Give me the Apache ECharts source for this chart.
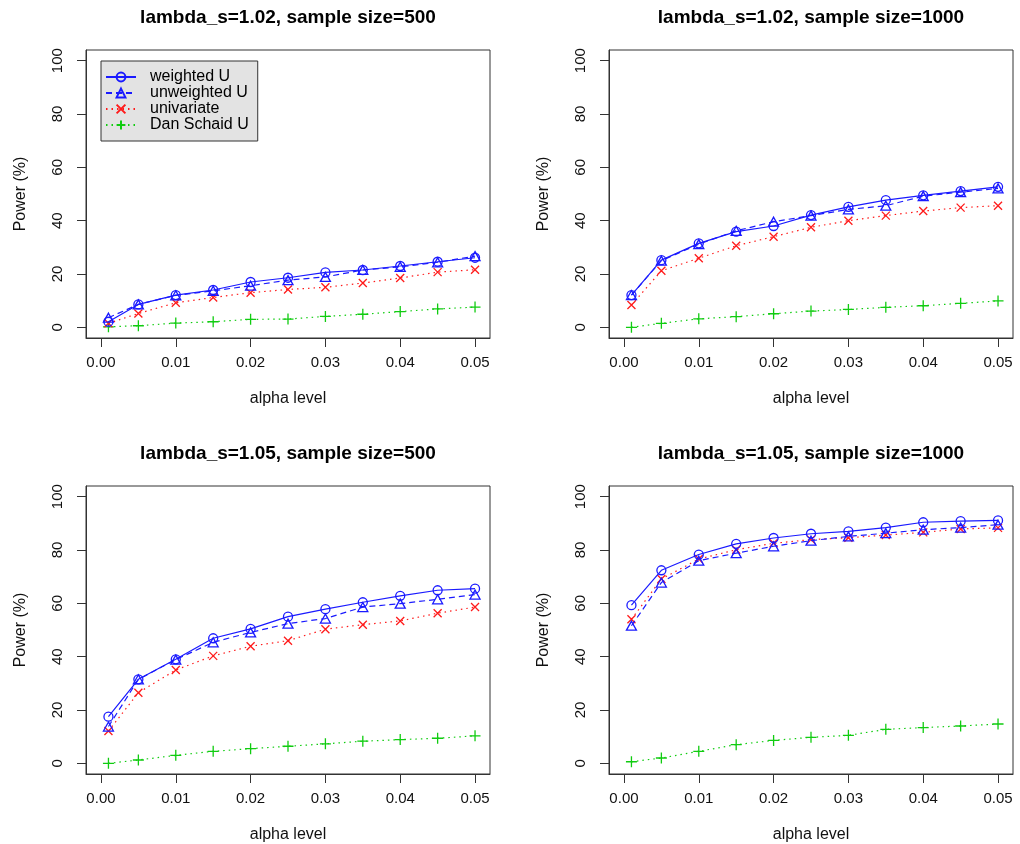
<!DOCTYPE html>
<html>
<head>
<meta charset="utf-8">
<script src="https://cdn.jsdelivr.net/npm/echarts@6/dist/echarts.min.js"></script>
<style>
  html, body { margin: 0; padding: 0; background: #fff; }
  #main { width: 1020px; height: 844px; }
</style>
</head>
<body>
<div id="main"></div>
<script>
// alpha levels on the x axis
var alpha = [0.001, 0.005, 0.01, 0.015, 0.02, 0.025, 0.03, 0.035, 0.04, 0.045, 0.05];
var xTicks = [0, 0.01, 0.02, 0.03, 0.04, 0.05];
var yTicks = [0, 20, 40, 60, 80, 100];

var titles = [
    'lambda_s=1.02, sample size=500',
    'lambda_s=1.02, sample size=1000',
    'lambda_s=1.05, sample size=500',
    'lambda_s=1.05, sample size=1000'
];
var methods = ['weighted U', 'unweighted U', 'univariate', 'Dan Schaid U'];

// power (%) per panel
var weighted_102_500   = [2.1, 8.6, 12.1, 14.0, 17.0, 18.6, 20.6, 21.5, 23.0, 24.6, 26.1];
var unweighted_102_500 = [3.6, 8.6, 12.0, 13.7, 15.6, 17.7, 18.9, 21.5, 22.7, 24.4, 26.7];
var univariate_102_500 = [1.5, 5.2, 9.2, 11.2, 13.0, 14.2, 15.0, 16.6, 18.5, 20.7, 21.6];
var schaid_102_500     = [0.2, 0.6, 1.6, 2.1, 3.0, 3.1, 4.1, 4.9, 5.9, 6.9, 7.6];

var weighted_102_1000   = [12.1, 25.2, 31.5, 35.9, 38.0, 42.1, 45.2, 47.7, 49.5, 51.1, 52.7];
var unweighted_102_1000 = [12.1, 25.0, 31.2, 36.2, 39.6, 41.9, 44.2, 45.6, 49.2, 50.7, 52.1];
var univariate_102_1000 = [8.4, 21.2, 25.9, 30.6, 34.0, 37.5, 40.0, 41.9, 43.6, 44.9, 45.6];
var schaid_102_1000     = [0.0, 1.5, 3.2, 4.0, 5.1, 6.1, 6.7, 7.5, 8.1, 9.0, 9.9];

var weighted_105_500   = [17.5, 31.5, 39.0, 46.9, 50.4, 55.0, 57.8, 60.4, 62.8, 64.9, 65.5];
var unweighted_105_500 = [13.8, 31.5, 38.9, 45.4, 49.1, 52.4, 54.3, 58.6, 59.9, 61.5, 63.3];
var univariate_105_500 = [12.1, 26.5, 35.0, 40.3, 43.9, 46.0, 50.3, 52.0, 53.4, 56.3, 58.6];
var schaid_105_500     = [0.0, 1.25, 3.0, 4.5, 5.5, 6.4, 7.3, 8.3, 8.9, 9.4, 10.3];

var weighted_105_1000   = [59.3, 72.4, 78.3, 82.3, 84.5, 86.1, 87.0, 88.4, 90.4, 90.8, 91.1];
var unweighted_105_1000 = [51.6, 67.8, 76.0, 78.8, 81.4, 83.5, 85.1, 86.3, 87.6, 88.4, 89.5];
var univariate_105_1000 = [54.0, 69.1, 76.6, 80.1, 82.5, 83.9, 84.6, 85.6, 86.6, 87.9, 88.3];
var schaid_105_1000     = [0.6, 2.0, 4.5, 7.0, 8.6, 9.75, 10.5, 12.75, 13.4, 14.0, 14.75];

var panels = [
    [weighted_102_500, unweighted_102_500, univariate_102_500, schaid_102_500],
    [weighted_102_1000, unweighted_102_1000, univariate_102_1000, schaid_102_1000],
    [weighted_105_500, unweighted_105_500, univariate_105_500, schaid_105_500],
    [weighted_105_1000, unweighted_105_1000, univariate_105_1000, schaid_105_1000]
];

var BLUE = '#1a1aff', RED = '#ff1a1a', GREEN = '#10cc10';
var FONT = '"Liberation Sans", Arial, Helvetica, sans-serif';

// look of each method: marker + line type
var styles = [
    {symbol: 'circle', size: 9, color: BLUE, type: 'solid'},
    {symbol: 'triangle', size: [10, 9], color: BLUE, type: [6, 4]},
    {symbol: 'path://M0,0L10,10M10,0L0,10', size: 8, color: RED, type: [1.5, 4]},
    {symbol: 'path://M5,0L5,10M0,5L10,5', size: 11, color: GREEN, type: [1.5, 4]}
];

// plot boxes
var boxes = [
    {left: 86, top: 50, width: 404, height: 288},
    {left: 609, top: 50, width: 404, height: 288},
    {left: 86, top: 486, width: 404, height: 289},
    {left: 609, top: 486, width: 404, height: 289}
];

var myChart = echarts.init(document.getElementById('main'));

var grids = [], xAxes = [], yAxes = [], series = [], titleOpts = [];

boxes.forEach(function (b, i) {
    grids.push({
        left: b.left, top: b.top, width: b.width, height: b.height,
        show: true, borderColor: '#333', borderWidth: 1, backgroundColor: '#fff'
    });

    titleOpts.push({
        text: titles[i],
        left: b.left + b.width / 2,
        top: b.top - 42,
        textAlign: 'center',
        padding: 0,
        textStyle: {fontFamily: FONT, fontSize: 19, fontWeight: 'bold', color: '#000'}
    });

    xAxes.push({
        type: 'value',
        gridIndex: i,
        min: -0.002,
        max: 0.052,
        name: 'alpha level',
        nameLocation: 'middle',
        nameGap: 53,
        nameTextStyle: {fontFamily: FONT, fontSize: 16, color: '#111'},
        axisLine: {show: true, onZero: false, lineStyle: {color: '#333', width: 1}},
        axisTick: {show: true, length: 9, customValues: xTicks, lineStyle: {color: '#333'}},
        axisLabel: {
            customValues: xTicks, margin: 17, fontFamily: FONT, fontSize: 15, color: '#111',
            formatter: function (v) { return v.toFixed(2); }
        },
        splitLine: {show: false}
    });

    yAxes.push({
        type: 'value',
        gridIndex: i,
        min: -4,
        max: 104,
        name: 'Power (%)',
        nameLocation: 'middle',
        nameGap: 57,
        nameRotate: 90,
        nameTextStyle: {fontFamily: FONT, fontSize: 16, color: '#111'},
        axisLine: {show: true, onZero: false, lineStyle: {color: '#333', width: 1}},
        axisTick: {show: true, length: 9, customValues: yTicks, lineStyle: {color: '#333'}},
        axisLabel: {
            customValues: yTicks, rotate: 90, margin: 21,
            align: 'center', verticalAlign: 'bottom',
            fontFamily: FONT, fontSize: 15, color: '#111'
        },
        splitLine: {show: false}
    });

    panels[i].forEach(function (vals, k) {
        var st = styles[k];
        series.push({
            name: methods[k],
            type: 'line',
            xAxisIndex: i,
            yAxisIndex: i,
            data: alpha.map(function (a, j) { return [a, vals[j]]; }),
            symbol: st.symbol,
            symbolSize: st.size,
            showAllSymbol: true,
            itemStyle: {color: 'rgba(0,0,0,0)', borderColor: st.color, borderWidth: 1.3},
            lineStyle: {color: st.color, width: 1.2, type: st.type},
            emphasis: {disabled: true},
            z: 10 - k
        });
    });
});

var option = {
    animation: false,
    backgroundColor: '#fff',
    title: titleOpts,
    legend: {
        data: methods,
        orient: 'vertical',
        left: 101,
        top: 61,
        padding: [8, 9, 8, 4],
        itemGap: 0,
        itemWidth: 30,
        itemHeight: 11,
        backgroundColor: '#e3e3e3',
        borderColor: '#333',
        borderWidth: 1,
        borderRadius: 0,
        selectedMode: false,
        textStyle: {fontFamily: FONT, fontSize: 16, color: '#000', lineHeight: 16, padding: [0, 0, 0, 9]}
    },
    grid: grids,
    xAxis: xAxes,
    yAxis: yAxes,
    series: series
};

myChart.setOption(option);
</script>
</body>
</html>
